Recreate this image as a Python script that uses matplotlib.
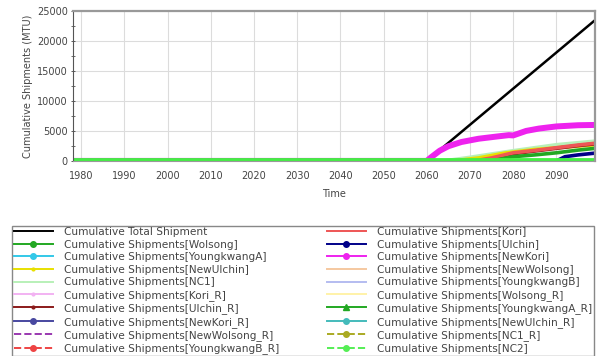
import matplotlib
matplotlib.use("Agg")
import matplotlib.pyplot as plt
from matplotlib.lines import Line2D
from matplotlib.ticker import MultipleLocator

plt.rcParams["font.family"] = ["DejaVu Sans"]

# ── cumulative shipments (MTU), sparse (year, value) points per series ──
X_START, X_END = 1978, 2099

TOTAL_YEARS = [1978, 2060, 2099]
TOTAL_VALS = [0, 0, 23500]

NEWKORI_YEARS = [1978, 2060, 2061, 2063, 2065, 2068, 2072, 2076, 2079, 2080, 2083, 2086, 2090, 2095, 2099]
NEWKORI_VALS = [0, 0, 600, 1700, 2450, 3150, 3700, 4050, 4300, 4250, 5000, 5400, 5750, 5950, 6000]

NC1_YEARS = [1978, 2064, 2070, 2080, 2090, 2099]
NC1_VALS = [0, 0, 600, 1700, 2700, 3300]

NEWULCHIN_YEARS = [1978, 2066, 2072, 2078, 2085, 2099]
NEWULCHIN_VALS = [0, 0, 500, 1300, 1900, 2700]

KORI_YEARS = [1978, 2071, 2075, 2080, 2085, 2090, 2095, 2099]
KORI_VALS = [0, 0, 500, 1350, 1750, 2200, 2650, 2950]

ULCHIN_R_YEARS = [1978, 2072, 2076, 2080, 2085, 2090, 2095, 2099]
ULCHIN_R_VALS = [0, 0, 450, 1200, 1650, 2100, 2550, 2850]

WOLSONG_YEARS = [1978, 2075, 2080, 2085, 2090, 2095, 2099]
WOLSONG_VALS = [0, 0, 700, 1000, 1350, 1800, 2100]

ULCHIN_YEARS = [1978, 2090, 2092, 2095, 2099]
ULCHIN_VALS = [0, 0, 700, 1000, 1300]

FLAT_YEARS = [1978, 2099]
FLAT_VALS = [0, 0]

# legend entries: (label, colour, linestyle, marker, data)
col1 = [
    ("Cumulative Total Shipment", "black", "-", None, (TOTAL_YEARS, TOTAL_VALS)),
    ("Cumulative Shipments[Wolsong]", "#22a822", "-", "o", (WOLSONG_YEARS, WOLSONG_VALS)),
    ("Cumulative Shipments[YoungkwangA]", "#33c8e8", "-", "o", (FLAT_YEARS, FLAT_VALS)),
    ("Cumulative Shipments[NewUlchin]", "#e8e000", "-", ".", (NEWULCHIN_YEARS, NEWULCHIN_VALS)),
    ("Cumulative Shipments[NC1]", "#b8f0b8", "-", None, (NC1_YEARS, NC1_VALS)),
    ("Cumulative Shipments[Kori_R]", "#f2b2f2", "-", ".", (FLAT_YEARS, FLAT_VALS)),
    ("Cumulative Shipments[Ulchin_R]", "#8b1a1a", "-", ".", (ULCHIN_R_YEARS, ULCHIN_R_VALS)),
    ("Cumulative Shipments[NewKori_R]", "#4848a0", "-", "o", (FLAT_YEARS, FLAT_VALS)),
    ("Cumulative Shipments[NewWolsong_R]", "#9a38b0", "--", None, (FLAT_YEARS, FLAT_VALS)),
    ("Cumulative Shipments[YoungkwangB_R]", "#ee4444", "--", "o", (FLAT_YEARS, FLAT_VALS)),
]
col2 = [
    ("Cumulative Shipments[Kori]", "#ee5555", "-", None, (KORI_YEARS, KORI_VALS)),
    ("Cumulative Shipments[Ulchin]", "#000088", "-", "o", (ULCHIN_YEARS, ULCHIN_VALS)),
    ("Cumulative Shipments[NewKori]", "#ee22ee", "-", "o", (NEWKORI_YEARS, NEWKORI_VALS)),
    ("Cumulative Shipments[NewWolsong]", "#f5c8a0", "-", None, (FLAT_YEARS, FLAT_VALS)),
    ("Cumulative Shipments[YoungkwangB]", "#b4bcf0", "-", None, (FLAT_YEARS, FLAT_VALS)),
    ("Cumulative Shipments[Wolsong_R]", "#fff2a8", "-", None, (FLAT_YEARS, FLAT_VALS)),
    ("Cumulative Shipments[YoungkwangA_R]", "#22a822", "-", "^", (FLAT_YEARS, FLAT_VALS)),
    ("Cumulative Shipments[NewUlchin_R]", "#44bbbb", "-", "o", (FLAT_YEARS, FLAT_VALS)),
    ("Cumulative Shipments[NC1_R]", "#aaaa22", "--", "o", (FLAT_YEARS, FLAT_VALS)),
    ("Cumulative Shipments[NC2]", "#55ee55", "--", "o", (FLAT_YEARS, FLAT_VALS)),
]

fig = plt.figure(figsize=(6, 3.56), dpi=100)
ax = fig.add_axes([0.121, 0.548, 0.871, 0.421])

# draw order: flat/hidden ones first, then rising ones, NC2 zero line on top
draw_order = [
    col1[2], col1[5], col1[7], col1[8], col1[9],
    col2[3], col2[4], col2[5], col2[6], col2[7], col2[8],
    col1[4], col1[3], col1[6], col2[0], col1[1], col2[1],
    col1[0], col2[2],
]
for label, color, ls, marker, (xs, ys) in draw_order:
    if label.endswith("[NewKori]"):
        lw = 4.3
    elif label.endswith("Total Shipment"):
        lw = 1.8
    else:
        lw = 2.6
    ax.plot(xs, ys, color=color, linewidth=lw, solid_capstyle="butt")
ax.plot(col2[9][4][0], col2[9][4][1], color="#44ee44", linewidth=4.2, solid_capstyle="butt")

ax.set_xlim(X_START, X_END)
ax.set_ylim(0, 25000)
ax.xaxis.set_major_locator(MultipleLocator(10))
ax.yaxis.set_major_locator(MultipleLocator(5000))
ax.yaxis.set_minor_locator(MultipleLocator(2500))
ax.grid(True, which="major", color="#dcdcdc", linewidth=0.8)
ax.set_axisbelow(True)

for side in ("top", "right"):
    ax.spines[side].set_color("#999999")
    ax.spines[side].set_linewidth(1.6)
ax.spines["left"].set_color("#555555")
ax.spines["left"].set_linewidth(0.8)
ax.spines["bottom"].set_color("#999999")

ax.tick_params(axis="both", labelsize=7, colors="#444444", length=3, width=0.6)
ax.tick_params(axis="y", which="both", direction="inout", pad=2)
ax.tick_params(axis="y", which="minor", length=3, width=0.6, color="#555555")
ax.tick_params(axis="x", length=0, pad=7)

ax.set_xlabel("Time", fontsize=7, color="#444444", labelpad=6)
ax.set_ylabel("Cumulative Shipments (MTU)", fontsize=7, color="#444444", labelpad=3)

# legend handles (thinner than the plotted lines)
handles, labels = [], []
for label, color, ls, marker, _ in col1 + col2:
    handles.append(Line2D([], [], color=color, linestyle=ls, linewidth=1.4,
                          marker=marker, markersize=4 if marker else 0))
    labels.append(label)

fig.legend(handles, labels, ncol=2, loc="lower left",
           bbox_to_anchor=(0.02, 0.0, 0.97, 0.365), mode="expand",
           borderaxespad=0, fontsize=7.6, frameon=True, fancybox=False,
           edgecolor="#888888", framealpha=1, handlelength=3.7,
           handletextpad=1.1, labelspacing=0.24, borderpad=0.15,
           labelcolor="#444444")

fig.savefig("out.png", dpi=100, facecolor="white")
